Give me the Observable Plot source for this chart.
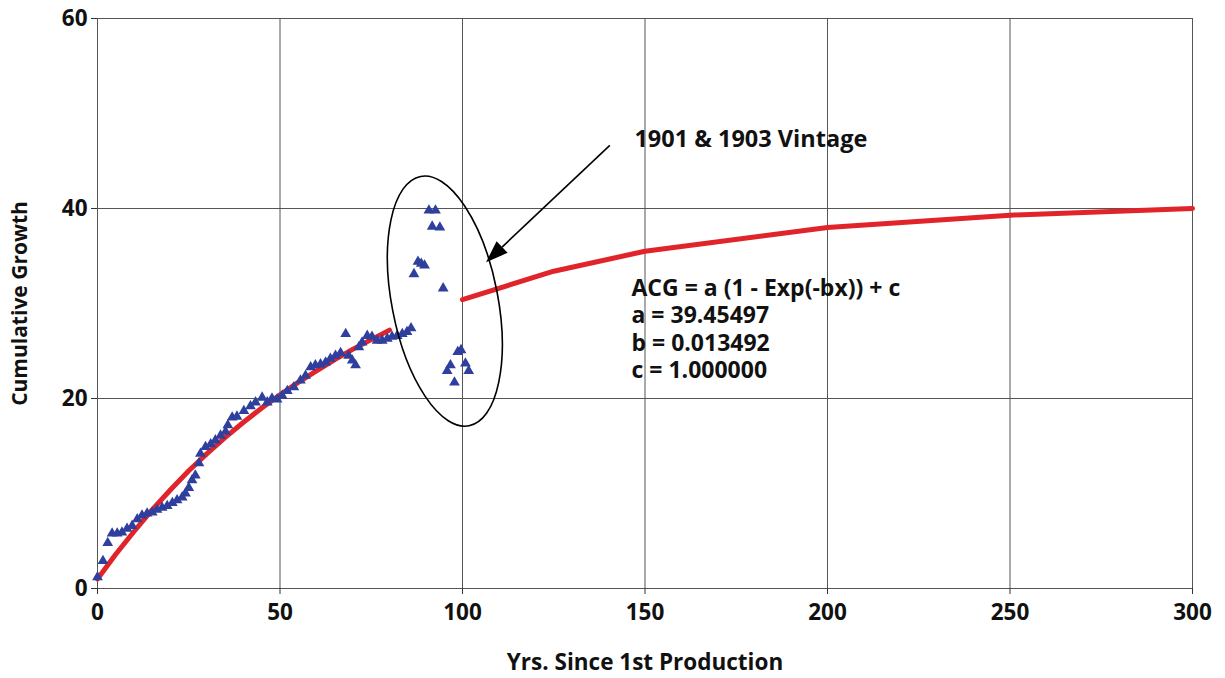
<!DOCTYPE html>
<html>
<head>
<meta charset="utf-8">
<script src="https://cdn.jsdelivr.net/npm/d3@7"></script>
<script src="https://cdn.jsdelivr.net/npm/@observablehq/plot@0.6"></script>
<style>
  html, body { margin: 0; padding: 0; background: #fff; }
  #chart svg { display: block; }
</style>
</head>
<body>
<div id="chart"></div>
<script>
// Observed cumulative growth (triangles)
const years = [0,1.5,2.8,4,5.4,6.7,8.1,9.5,10.9,12.2,13.6,15,16.3,17.7,19.1,20.5,21.8,23.2,24.1,25,25.9,26.8,27.8,28.2,29.6,31,32.3,33.7,35.1,35.7,36.9,38.2,40.1,41.9,43.3,45.1,46.5,47.8,49.2,50.6,52,53.8,55.6,57,58.4,59.7,61.1,62.5,63.8,65.2,66.6,68,68.8,69.8,70.7,71.6,72.5,73.9,75.2,76.6,78,79.4,80.7,82.1,83.5,84.8,85.9,86.7,87.8,88.7,89.6,90.8,92.6,91.7,93.8,94.7,95.8,96.7,97.8,98.7,99.6,100.8,101.7];
const growth = [1.2,2.9,4.8,5.8,5.8,5.9,6.3,6.6,7.3,7.7,7.9,8.0,8.3,8.5,8.7,9.0,9.3,9.6,10.0,10.6,11.4,11.9,13.2,14.2,14.9,15.2,15.6,16.1,16.5,17.2,18.0,18.1,18.7,19.2,19.6,20.1,19.6,20.0,19.9,20.3,20.8,21.2,21.9,22.4,23.3,23.5,23.6,23.8,24.2,24.5,24.8,26.8,24.5,24.0,23.5,25.4,25.9,26.6,26.5,26.1,26.1,26.3,26.5,26.6,26.8,27.0,27.4,33.1,34.4,34.2,34.0,39.8,39.8,38.1,38.0,31.6,22.9,23.5,21.7,24.9,25.1,23.7,22.9];

// Fitted curve (red), two segments
const fitYears1 = [0,5,10,15,20,25,30,35,40,45,50,55,60,65,70,75,80];
const fitValues1 = [1.0,3.6,6.0,8.3,10.4,12.4,14.2,15.9,17.5,19.0,20.4,21.7,22.9,24.1,25.2,26.2,27.2];
const fitYears2 = [100,125,150,200,250,300];
const fitValues2 = [30.4,33.4,35.5,38.0,39.3,40.0];

// Axis ticks
const xTicks = [0,50,100,150,200,250,300];
const yTicks = [0,20,40,60];

// Annotation texts
const calloutLabel = "1901 & 1903 Vintage";
const equationLines = ["ACG = a (1 - Exp(-bx)) + c", "a = 39.45497", "b = 0.013492", "c = 1.000000"];
const xTitle = "Yrs. Since 1st Production";
const yTitle = "Cumulative Growth";

const points = years.map((x, i) => ({x, y: growth[i]}));
const fit1 = fitYears1.map((x, i) => ({x, y: fitValues1[i]}));
const fit2 = fitYears2.map((x, i) => ({x, y: fitValues2[i]}));

// annotation anchors (data units)
const ellipseCenter = {x: 95.3, y: 30.2};
const arrowFrom = {x: 140.5, y: 46.6};
const arrowTo = {x: 106.6, y: 34.3};

function ellipseMark(index, scales) {
  const cx = scales.x(ellipseCenter.x), cy = scales.y(ellipseCenter.y);
  const g = d3.create("svg:g");
  g.append("ellipse")
    .attr("cx", cx).attr("cy", cy).attr("rx", 53).attr("ry", 127)
    .attr("transform", `rotate(-11,${cx},${cy})`)
    .attr("fill", "none").attr("stroke", "#000").attr("stroke-width", 1.6);
  return g.node();
}

function arrowMark(index, scales) {
  const x1 = scales.x(arrowFrom.x), y1 = scales.y(arrowFrom.y);
  const x2 = scales.x(arrowTo.x), y2 = scales.y(arrowTo.y);
  const ang = Math.atan2(y2 - y1, x2 - x1);
  const L = 22, W = 8;
  const bx = x2 - L * Math.cos(ang), by = y2 - L * Math.sin(ang);
  const px = -Math.sin(ang) * W, py = Math.cos(ang) * W;
  const g = d3.create("svg:g");
  g.append("line").attr("x1", x1).attr("y1", y1).attr("x2", bx).attr("y2", by)
    .attr("stroke", "#000").attr("stroke-width", 1.6);
  g.append("path")
    .attr("d", `M${x2},${y2}L${bx + px},${by + py}L${bx - px},${by - py}Z`)
    .attr("fill", "#000");
  return g.node();
}

const chart = Plot.plot({
  width: 1225,
  height: 678,
  marginLeft: 97,
  marginRight: 33,
  marginTop: 18,
  marginBottom: 90,
  style: {fontFamily: "'Open Sans', sans-serif", fontSize: "22.5px", fontWeight: "bold", color: "#111", background: "#fff"},
  x: {domain: [0, 300]},
  y: {domain: [0, 60]},
  marks: [
    Plot.gridX(xTicks, {stroke: "#555", strokeOpacity: 1, strokeWidth: 1}),
    Plot.gridY(yTicks, {stroke: "#555", strokeOpacity: 1, strokeWidth: 1}),
    Plot.axisX({ticks: xTicks, tickSize: 6, tickPadding: 10, label: null, stroke: "#333", fontSize: 22.5}),
    Plot.axisY({ticks: yTicks, tickSize: 6, tickPadding: 4, label: null, stroke: "#333", fontSize: 22.5}),
    Plot.line(fit1, {x: "x", y: "y", stroke: "#e0242a", strokeWidth: 5}),
    Plot.line(fit2, {x: "x", y: "y", stroke: "#e0242a", strokeWidth: 5}),
    Plot.dot(points, {x: "x", y: "y", symbol: "triangle", r: 4, fill: "#2e3f9e", stroke: null}),
    ellipseMark,
    arrowMark,
    Plot.text([calloutLabel], {x: 147.1, y: 47.3, text: d => d, textAnchor: "start", fontSize: 23.5, fontWeight: "bold", fill: "#111"}),
    Plot.text([equationLines.join("\n")], {x: 146.3, y: 27.4, text: d => d, textAnchor: "start", lineAnchor: "middle", lineHeight: 1.19, fontSize: 23, fontWeight: "bold", fill: "#111"}),
    Plot.text([xTitle], {frameAnchor: "bottom", dy: 74, lineAnchor: "middle", text: d => d, fontSize: 22.5, fontWeight: "bold", fill: "#111"}),
    Plot.text([yTitle], {frameAnchor: "left", dx: -77, rotate: -90, textAnchor: "middle", text: d => d, fontSize: 21, fontWeight: "bold", fill: "#111"})
  ]
});
document.getElementById("chart").appendChild(chart);
</script>
</body>
</html>
